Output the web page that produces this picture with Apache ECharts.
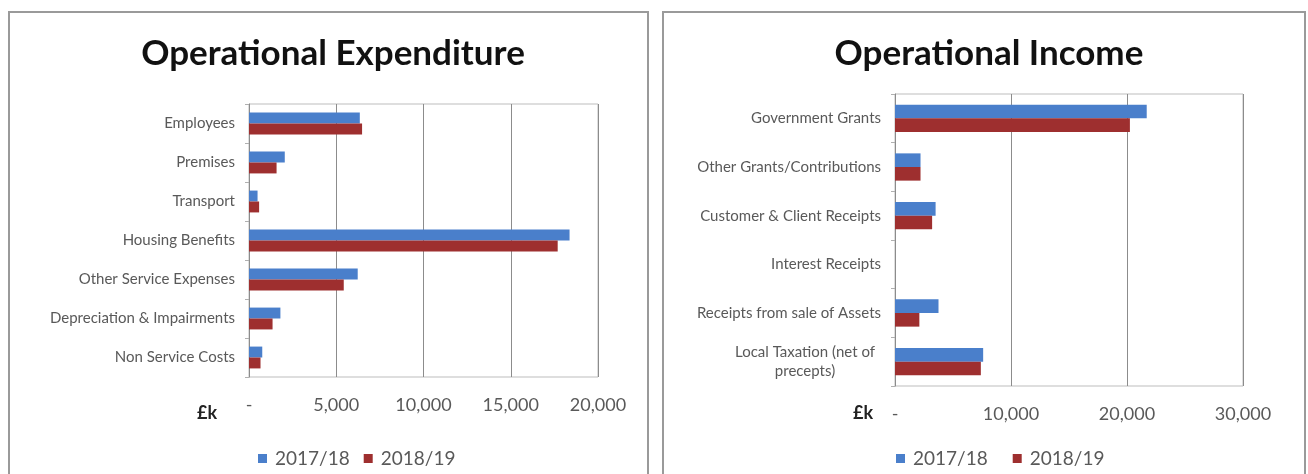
<!DOCTYPE html>
<html>
<head>
<meta charset="utf-8">
<script src="https://cdn.jsdelivr.net/npm/echarts@6/dist/echarts.min.js"></script>
<style>
  html, body { margin: 0; padding: 0; background: #ffffff; }
  #chart { width: 1308px; height: 474px; }
</style>
</head>
<body>
<div id="chart"></div>
<script>
// ---- Data ----
const seriesNames = ['2017/18', '2018/19'];

const expCategories = ['Employees', 'Premises', 'Transport', 'Housing Benefits', 'Other Service Expenses', 'Depreciation & Impairments', 'Non Service Costs'];
const exp2017 = [6350, 2050, 490, 18370, 6230, 1800, 760];
const exp2018 = [6480, 1580, 580, 17690, 5430, 1350, 660];
const expTicks = [0, 5000, 10000, 15000, 20000];

const incCategories = ['Government Grants', 'Other Grants/Contributions', 'Customer & Client Receipts', 'Interest Receipts', 'Receipts from sale of Assets', 'Local Taxation (net of\nprecepts)'];
const inc2017 = [21700, 2200, 3500, 0, 3750, 7600];
const inc2018 = [20250, 2200, 3200, 0, 2100, 7400];
const incTicks = [0, 10000, 20000, 30000];

const unitLabel = '£k';
const titles = ['Operational Expenditure', 'Operational Income'];

// ---- Styles ----
const FONT = 'Lato, "Open Sans", sans-serif';
const BLUE = '#4a7fcb';
const RED = '#9e2f2f';
const GRAY = '#595959';

function fmtTick(v) { return v === 0 ? '-' : v.toLocaleString('en-US'); }

function catFormatter(v) {
  if (v.indexOf('\n') >= 0) {
    return v.split('\n').map(s => '{c|' + s + '}').join('\n');
  }
  return v;
}

function valueAxis(idx, ticks) {
  const max = ticks[ticks.length - 1];
  const interval = ticks[1] - ticks[0];
  return {
    type: 'value', gridIndex: idx, min: ticks[0], max: max, interval: interval,
    axisLine: { show: false },
    axisTick: { show: false },
    splitLine: { show: true, lineStyle: { color: '#8c8c8c', width: 1 } },
    axisLabel: { formatter: fmtTick, color: GRAY, fontFamily: FONT, fontSize: 18, margin: 19 }
  };
}

function catAxis(idx, cats) {
  return {
    type: 'category', gridIndex: idx, data: cats, inverse: true,
    axisLine: { show: true, lineStyle: { color: '#8c8c8c', width: 1 } },
    axisTick: { show: true, length: 4, lineStyle: { color: '#b0b0b0' } },
    axisLabel: {
      color: GRAY, fontFamily: FONT, fontSize: 15, margin: 14, formatter: catFormatter,
      rich: { c: { color: GRAY, fontFamily: FONT, fontSize: 15, width: 152, align: 'center', lineHeight: 19 } }
    }
  };
}

function barSeries(name, idx, data, color) {
  return {
    name: name, type: 'bar', xAxisIndex: idx, yAxisIndex: idx, data: data,
    itemStyle: { color: color },
    barGap: '0%', barCategoryGap: '44%', silent: true
  };
}

const option = {
  animation: false,
  backgroundColor: '#ffffff',
  color: [BLUE, RED],
  title: [
    { text: titles[0], left: 328, top: 31, textAlign: 'center',
      textStyle: { fontFamily: FONT, fontWeight: 'bold', fontSize: 35, color: '#111' } },
    { text: titles[1], left: 984, top: 31, textAlign: 'center',
      textStyle: { fontFamily: FONT, fontWeight: 'bold', fontSize: 35, color: '#111' } }
  ],
  legend: [
    { data: seriesNames, left: 253, top: 444, icon: 'rect', itemWidth: 9, itemHeight: 9, itemGap: 14,
      textStyle: { fontFamily: FONT, fontSize: 19, color: GRAY, padding: [0, 0, 0, 3] }, selectedMode: false },
    { data: seriesNames.map(n => n), left: 891, top: 444, icon: 'rect', itemWidth: 9, itemHeight: 9, itemGap: 25,
      textStyle: { fontFamily: FONT, fontSize: 19, color: GRAY, padding: [0, 0, 0, 3] }, selectedMode: false }
  ],
  grid: [
    { left: 249, top: 104, width: 349, height: 273, show: true, borderColor: '#bdbdbd', borderWidth: 1, containLabel: false },
    { left: 895, top: 94, width: 348, height: 292, show: true, borderColor: '#bdbdbd', borderWidth: 1, containLabel: false }
  ],
  xAxis: [valueAxis(0, expTicks), valueAxis(1, incTicks)],
  yAxis: [catAxis(0, expCategories), catAxis(1, incCategories)],
  series: [
    barSeries(seriesNames[0], 0, exp2017, BLUE),
    barSeries(seriesNames[1], 0, exp2018, RED),
    barSeries(seriesNames[0], 1, inc2017, BLUE),
    barSeries(seriesNames[1], 1, inc2018, RED)
  ],
  graphic: [
    { type: 'rect', shape: { x: 9, y: 12, width: 639, height: 480 }, style: { fill: 'none', stroke: '#9a9a9a', lineWidth: 2 }, z: -10, silent: true },
    { type: 'rect', shape: { x: 663, y: 12, width: 642, height: 480 }, style: { fill: 'none', stroke: '#9a9a9a', lineWidth: 2 }, z: -10, silent: true },
    { type: 'text', left: 197, top: 404, style: { text: unitLabel, fontFamily: FONT, fontWeight: 'bold', fontSize: 18, fill: '#222' }, silent: true },
    { type: 'text', left: 853, top: 404, style: { text: unitLabel, fontFamily: FONT, fontWeight: 'bold', fontSize: 18, fill: '#222' }, silent: true }
  ]
};

const chart = echarts.init(document.getElementById('chart'), null, { renderer: 'canvas' });
chart.setOption(option);
</script>
</body>
</html>
